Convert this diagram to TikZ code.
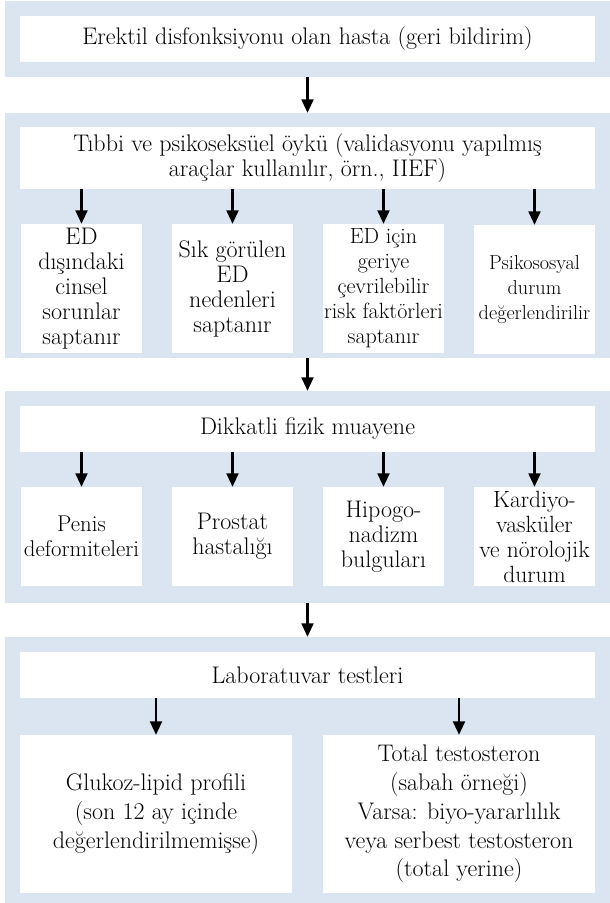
\documentclass[tikz,border=0pt]{standalone}
\usetikzlibrary{arrows.meta}
\definecolor{panelblue}{RGB}{219,229,241}
\begin{document}
\begin{tikzpicture}[x=1pt,y=-1pt,
  panel/.style={fill=panelblue, draw=none, inner sep=0pt, minimum width=605pt},
  wbox/.style={fill=white, draw=none, inner sep=0pt, align=center,
    font=\fontsize{24}{25}\selectfont},
  fs/.style={font=\fontsize{#1}{25}\selectfont},
  widelead/.style={font=\fontsize{24}{28.7}\selectfont},
  flow/.style={line width=2.2pt, -{Triangle[length=13.5pt,width=12pt]}},
]
\useasboundingbox (0,0) rectangle (610,903);
\clip (0,0) rectangle (610,903);

% background panels
\node[panel, minimum height=76pt]  (p1) at (307.5,39)    {};
\node[panel, minimum height=245pt] (p2) at (307.5,235.5) {};
\node[panel, minimum height=212pt] (p3) at (307.5,497)   {};
\node[panel, minimum height=280pt] (p4) at (307.5,777)   {};

% stage 1
\node[wbox, minimum width=575pt, minimum height=46pt] (h1) at (307.5,39)
  {Erektil disfonksiyonu olan hasta (geri bildirim)};

% stage 2: history
\node[wbox, minimum width=575pt, minimum height=62pt] (h2) at (307.5,158)
  {Tıbbi ve psikoseksüel öykü (validasyonu yapılmış\\araçlar kullanılır, örn., IIEF)};
\node[wbox, minimum width=121pt, minimum height=129pt] (s1) at (81.5,288.5)
  {ED\\dışındaki\\cinsel\\sorunlar\\saptanır};
\node[wbox, minimum width=121pt, minimum height=129pt] (s2) at (232.5,288.5)
  {Sık görülen\\ED\\nedenleri\\saptanır};
\node[wbox, fs=22, minimum width=121pt, minimum height=129pt] (s3) at (383.5,288.5)
  {ED için\\geriye\\çevrilebilir\\risk faktörleri\\saptanır};
\node[wbox, fs=20.2, minimum width=121pt, minimum height=129pt] (s4) at (534.5,289.5)
  {Psikososyal\\durum\\değerlendirilir};

% stage 3: physical examination
\node[wbox, minimum width=575pt, minimum height=46pt] (h3) at (307.5,429)
  {Dikkatli fizik muayene};
\node[wbox, fs=22.8, minimum width=121pt, minimum height=99pt] (f1) at (81.5,536.5)
  {Penis\\deformiteleri};
\node[wbox, minimum width=121pt, minimum height=99pt] (f2) at (232.5,536.5)
  {Prostat\\hastalığı};
\node[wbox, minimum width=121pt, minimum height=99pt] (f3) at (383.5,536.5)
  {Hipogo-\\nadizm\\bulguları};
\node[wbox, fs=23.5, minimum width=121pt, minimum height=99pt] (f4) at (534.5,536.5)
  {Kardiyo-\\vasküler\\ve nörolojik\\durum};

% stage 4: laboratory tests
\node[wbox, minimum width=575pt, minimum height=46pt] (h4) at (307.5,675)
  {Laboratuvar testleri};
\node[wbox, widelead, minimum width=272pt, minimum height=158pt] (l1) at (156,814)
  {Glukoz-lipid profili\\(son 12 ay içinde\\değerlendirilmemişse)};
\node[wbox, widelead, minimum width=272pt, minimum height=158pt] (l2) at (459,814)
  {Total testosteron\\(sabah örneği)\\Varsa: biyo-yararlılık\\veya serbest testosteron\\(total yerine)};

% connectors between stages
\draw[flow] (p1.south) -- (p2.north);
\draw[flow] (p2.south) -- (p3.north);
\draw[flow] (p3.south) -- (p4.north);

% connectors inside stages
\foreach \b in {s1,s2,s3,s4} \draw[flow] (\b.north |- h2.south) -- (\b.north);
\foreach \b in {f1,f2,f3,f4} \draw[flow] (\b.north |- h3.south) -- (\b.north);
\foreach \b in {l1,l2} \draw[flow] (\b.north |- h4.south) -- (\b.north);
\end{tikzpicture}
\end{document}
